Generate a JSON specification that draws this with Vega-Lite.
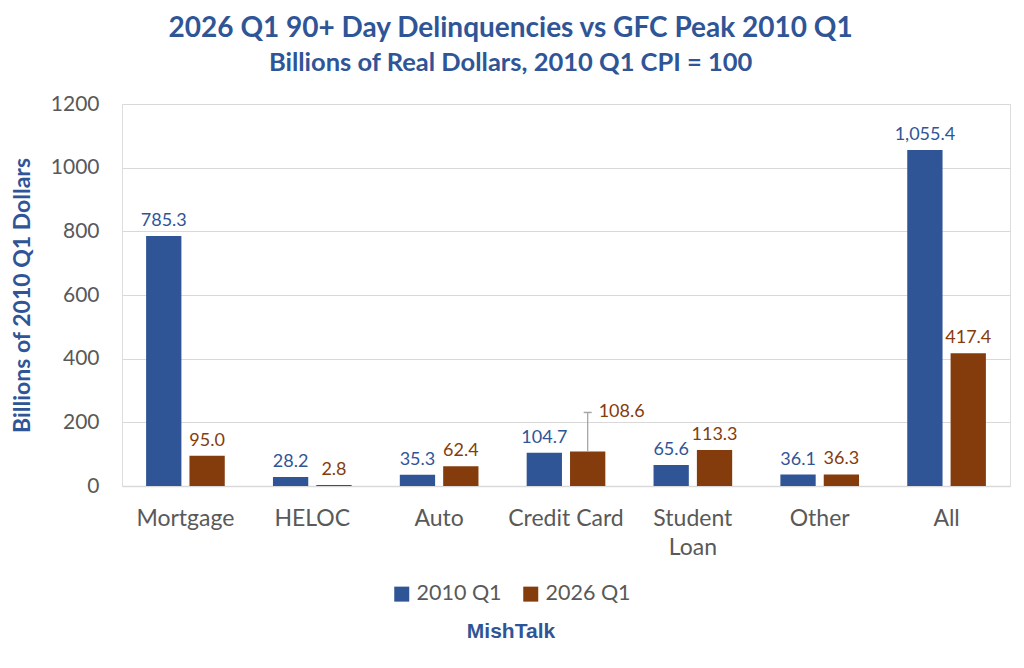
{
  "$schema": "https://vega.github.io/schema/vega-lite/v6.json",
  "autosize": {"type": "none"},
  "width": 888,
  "height": 382,
  "padding": {"top": 104, "left": 122, "right": 14, "bottom": 182},
  "background": "white",
  "title": {
    "text": "2026 Q1 90+ Day Delinquencies vs GFC Peak 2010 Q1",
    "subtitle": "Billions of Real Dollars, 2010 Q1 CPI = 100",
    "font": "Lato",
    "fontSize": 28,
    "fontWeight": "bold",
    "color": "#2F5597",
    "subtitleFont": "Lato",
    "subtitleFontSize": 25.5,
    "subtitleFontWeight": "bold",
    "subtitleColor": "#2F5597",
    "subtitlePadding": 8,
    "anchor": "middle",
    "frame": "bounds",
    "offset": 17
  },
  "data": {
    "values": [
      {"category": "Mortgage", "period": "2010 Q1", "value": 785.3, "label": "785.3"},
      {"category": "Mortgage", "period": "2026 Q1", "value": 95.0, "label": "95.0"},
      {"category": "HELOC", "period": "2010 Q1", "value": 28.2, "label": "28.2"},
      {"category": "HELOC", "period": "2026 Q1", "value": 2.8, "label": "2.8"},
      {"category": "Auto", "period": "2010 Q1", "value": 35.3, "label": "35.3"},
      {"category": "Auto", "period": "2026 Q1", "value": 62.4, "label": "62.4"},
      {"category": "Credit Card", "period": "2010 Q1", "value": 104.7, "label": "104.7"},
      {"category": "Credit Card", "period": "2026 Q1", "value": 108.6, "label": "108.6"},
      {"category": "Student Loan", "period": "2010 Q1", "value": 65.6, "label": "65.6"},
      {"category": "Student Loan", "period": "2026 Q1", "value": 113.3, "label": "113.3"},
      {"category": "Other", "period": "2010 Q1", "value": 36.1, "label": "36.1"},
      {"category": "Other", "period": "2026 Q1", "value": 36.3, "label": "36.3"},
      {"category": "All", "period": "2010 Q1", "value": 1055.4, "label": "1,055.4"},
      {"category": "All", "period": "2026 Q1", "value": 417.4, "label": "417.4"}
    ]
  },
  "encoding": {
    "x": {
      "field": "category",
      "type": "nominal",
      "sort": null,
      "scale": {"paddingInner": 0.38, "paddingOuter": 0.19},
      "axis": {
        "title": null,
        "labelAngle": 0,
        "labelFont": "Lato",
        "labelFontSize": 23,
        "labelColor": "#595959",
        "labelPadding": 21,
        "labelExpr": "datum.label == 'Student Loan' ? ['Student', 'Loan'] : datum.label",
        "labelLineHeight": 29,
        "ticks": false,
        "domainColor": "#D9D9D9",
        "domainWidth": 1.5
      }
    },
    "xOffset": {
      "field": "period",
      "type": "nominal",
      "scale": {"paddingInner": 0.186}
    },
    "y": {
      "field": "value",
      "type": "quantitative",
      "scale": {"domain": [0, 1200]},
      "axis": {
        "title": "Billions of 2010 Q1 Dollars",
        "titleFont": "Lato",
        "titleFontSize": 23,
        "titleFontWeight": "bold",
        "titleColor": "#2F5597",
        "titlePadding": 16,
        "values": [0, 200, 400, 600, 800, 1000, 1200],
        "format": "d",
        "labelFont": "Lato",
        "labelFontSize": 21,
        "labelColor": "#595959",
        "labelPadding": 23,
        "ticks": false,
        "domain": false,
        "gridColor": "#D9D9D9",
        "gridWidth": 1.2
      }
    }
  },
  "layer": [
    {
      "mark": {"type": "bar"},
      "encoding": {
        "color": {
          "field": "period",
          "type": "nominal",
          "scale": {"domain": ["2010 Q1", "2026 Q1"], "range": ["#2F5597", "#843C0C"]},
          "legend": {
            "orient": "none",
            "legendX": 269,
            "legendY": 479,
            "direction": "horizontal",
            "title": "MishTalk",
            "titleOrient": "bottom",
            "titleAnchor": "middle",
            "titleFont": "Liberation Sans",
            "titleFontSize": 21,
            "titleFontWeight": "bold",
            "titleColor": "#2F5597",
            "titlePadding": 16,
            "labelFont": "Lato",
            "labelFontSize": 21.5,
            "labelColor": "#595959",
            "labelOffset": 4,
            "symbolType": "square",
            "symbolSize": 225,
            "symbolStrokeWidth": 0,
            "columnPadding": 18
          }
        }
      }
    },
    {
      "transform": [{"filter": "!(datum.category == 'Credit Card' && datum.period == '2026 Q1')"}],
      "mark": {"type": "text", "baseline": "bottom", "dy": -6, "font": "Lato", "fontSize": 18},
      "encoding": {
        "text": {"field": "label"},
        "color": {
          "field": "period",
          "type": "nominal",
          "scale": {"domain": ["2010 Q1", "2026 Q1"], "range": ["#2F5597", "#843C0C"]},
          "legend": null
        }
      }
    },
    {
      "transform": [{"filter": "datum.category == 'Credit Card' && datum.period == '2026 Q1'"}],
      "mark": {"type": "rule", "color": "#A6A6A6", "strokeWidth": 1.3},
      "encoding": {
        "y2": {"datum": 231}
      }
    },
    {
      "transform": [{"filter": "datum.category == 'Credit Card' && datum.period == '2026 Q1'"}],
      "mark": {"type": "tick", "orient": "horizontal", "color": "#A6A6A6", "opacity": 1, "thickness": 1.5, "size": 8},
      "encoding": {
        "y": {"datum": 231}
      }
    },
    {
      "transform": [{"filter": "datum.category == 'Credit Card' && datum.period == '2026 Q1'"}],
      "mark": {"type": "text", "align": "left", "baseline": "middle", "dx": 11, "font": "Lato", "fontSize": 18, "color": "#843C0C"},
      "encoding": {
        "y": {"datum": 231},
        "text": {"field": "label"}
      }
    }
  ]
}
